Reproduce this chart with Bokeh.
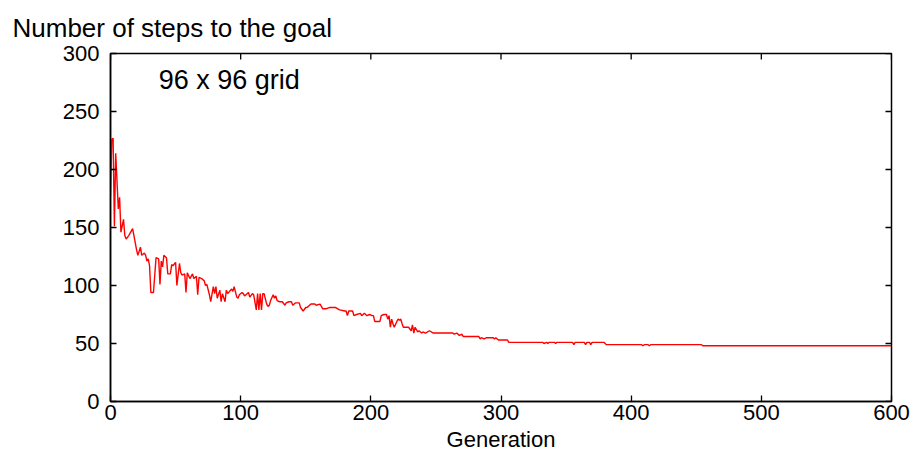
import math
from bokeh.plotting import figure
from bokeh.models import Range1d, Label, FixedTicker
from bokeh.embed import file_html
from bokeh.resources import INLINE

generations = [0, 1, 2, 3, 4, 6, 7, 8, 10, 11, 12, 14, 17, 18, 20, 21, 23, 24, 26, 27,
               28, 29, 30, 31, 33, 35, 37, 38, 39, 40, 41, 43, 44, 46, 47, 48, 50, 51, 53, 54,
               55, 57, 58, 59, 61, 63, 64, 66, 67, 68, 70, 72, 73, 74, 76, 77, 79, 80, 81, 82,
               84, 85, 86, 88, 89, 90, 93, 94, 95, 97, 98, 99, 101, 102, 103, 106, 107, 109, 110, 112,
               113, 114, 115, 116, 117, 118, 120, 121, 122, 123, 125, 126, 127, 128, 130, 132, 134, 135, 137, 139,
               140, 142, 144, 145, 146, 148, 150, 151, 154, 157, 158, 161, 163, 166, 168, 173, 176, 180, 181, 182,
               183, 186, 187, 189, 192, 193, 195, 197, 199, 201, 202, 203, 207, 208, 210, 212, 213, 214, 215, 216,
               217, 218, 220, 221, 222, 223, 224, 225, 229, 231, 232, 233, 234, 236, 237, 239, 240, 242, 245, 248,
               263, 264, 266, 268, 270, 271, 273, 283, 284, 285, 287, 289, 294, 295, 296, 298, 305, 306, 332, 333,
               335, 336, 337, 341, 342, 343, 355, 356, 357, 364, 365, 366, 368, 369, 370, 379, 381, 408, 409, 410,
               413, 414, 415, 454, 455, 600]
steps = [177, 226, 227, 151, 214, 166, 176, 146, 157, 143, 140, 143, 149, 143, 131, 126, 133, 126, 128, 126,
         121, 123, 117, 94, 94, 124, 123, 101, 121, 116, 126, 124, 110, 110, 118, 117, 120, 100, 119, 111,
         109, 110, 94, 111, 106, 110, 106, 108, 92, 107, 106, 104, 100, 101, 92, 86, 99, 93, 99, 89,
         96, 86, 93, 86, 96, 93, 97, 95, 99, 90, 89, 92, 94, 93, 91, 94, 90, 93, 92, 79,
         93, 79, 93, 79, 93, 93, 84, 82, 83, 87, 92, 89, 91, 87, 86, 86, 83, 85, 86, 86,
         83, 85, 85, 85, 81, 78, 81, 81, 84, 84, 83, 84, 80, 80, 81, 81, 79, 78, 78, 74,
         78, 78, 74, 75, 76, 74, 76, 74, 75, 74, 74, 69, 69, 74, 75, 75, 71, 74, 64, 71,
         67, 64, 69, 71, 70, 71, 67, 64, 64, 61, 66, 59, 64, 60, 61, 59, 60, 59, 61, 59,
         59, 58, 59, 57, 58, 56, 56, 56, 54, 55, 54, 55, 55, 54, 55, 53, 53, 51, 51, 50,
         51, 50, 51, 51, 50, 51, 51, 49, 51, 51, 49, 51, 51, 49, 51, 51, 49, 49, 48, 49,
         49, 48, 49, 49, 48, 48]

x_ticks = [0, 100, 200, 300, 400, 500, 600]
y_ticks = [0, 50, 100, 150, 200, 250, 300]

FONT = "Liberation Sans"

p = figure(width=915, height=454, output_backend="svg", toolbar_location=None,
           x_range=Range1d(x_ticks[0], x_ticks[-1]), y_range=Range1d(y_ticks[0], y_ticks[-1]),
           min_border_left=110, min_border_right=24, min_border_top=52,
           min_border_bottom=53)

p.line(generations, steps, line_color="#ff0000", line_width=1.4)

# inward ticks on the top and right edges of the box
p.scatter(x=x_ticks, y=[y_ticks[-1]] * len(x_ticks), marker="dash", size=12,
          angle=math.pi / 2, line_color="black", line_width=1.3)
p.scatter(x=[x_ticks[-1]] * len(y_ticks), y=y_ticks, marker="dash", size=12,
          line_color="black", line_width=1.3)

p.xgrid.grid_line_color = None
p.ygrid.grid_line_color = None
p.outline_line_color = "black"
p.outline_line_width = 1.5
p.background_fill_color = "white"
p.border_fill_color = "white"


def style_axis(ax, ticks):
    ax.ticker = FixedTicker(ticks=ticks)
    ax.axis_line_color = "black"
    ax.axis_line_width = 1.5
    ax.major_tick_line_color = "black"
    ax.major_tick_line_width = 1.3
    ax.major_tick_in = 6
    ax.major_tick_out = 0
    ax.minor_tick_line_color = None
    ax.major_label_text_font = FONT
    ax.major_label_text_color = "black"
    ax.major_label_text_font_size = "22px"


style_axis(p.xaxis[0], x_ticks)
style_axis(p.yaxis[0], y_ticks)
p.xaxis[0].major_label_standoff = 3
p.yaxis[0].major_label_standoff = 11
p.xaxis[0].axis_label = "Generation"
p.xaxis[0].axis_label_text_font = FONT
p.xaxis[0].axis_label_text_font_size = "22px"
p.xaxis[0].axis_label_text_font_style = "normal"
p.xaxis[0].axis_label_text_color = "black"
p.xaxis[0].axis_label_standoff = 4

p.title.text = "Number of steps to the goal"
p.title.text_font = FONT
p.title.text_font_size = "26px"
p.title.text_font_style = "normal"
p.title.text_color = "black"
p.title.align = "left"
p.title.offset = -98
p.title.standoff = 21

p.add_layout(Label(x=37, y=277, text="96 x 96 grid", text_font=FONT,
                   text_font_size="27px", text_color="black",
                   text_baseline="alphabetic"))

open("out.html", "w").write(file_html(p, INLINE))
